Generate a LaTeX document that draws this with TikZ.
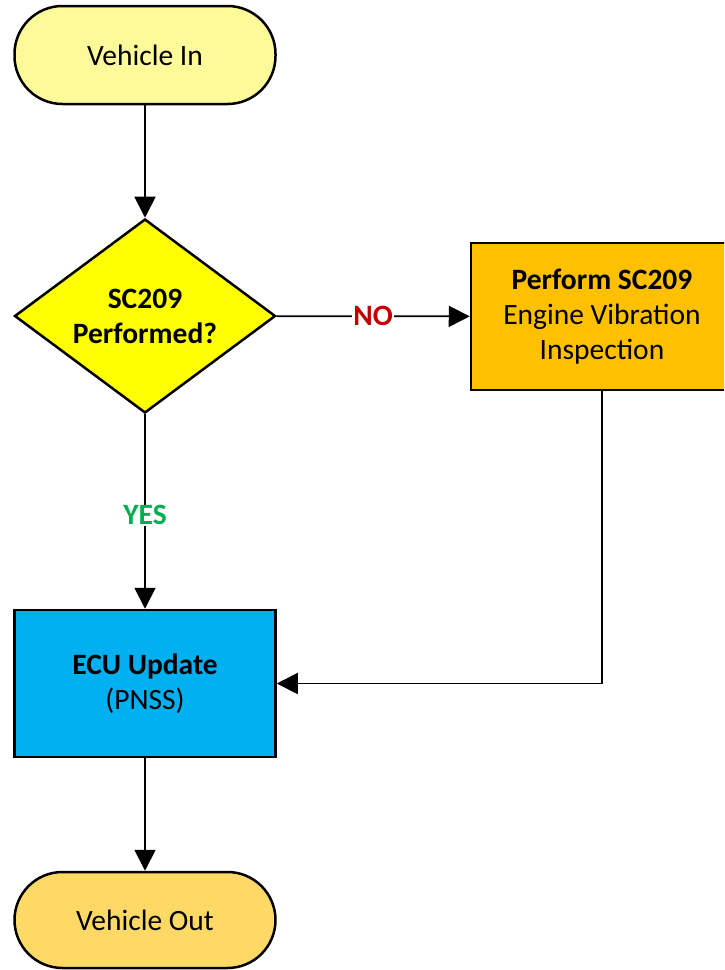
\documentclass[tikz,border=0pt]{standalone}
\usepackage{fontspec}
\setmainfont{Carlito}
\usetikzlibrary{shapes.geometric,arrows.meta}
\definecolor{vinfill}{RGB}{255,250,153}
\definecolor{decfill}{RGB}{255,255,0}
\definecolor{perffill}{RGB}{255,192,0}
\definecolor{ecufill}{RGB}{0,176,240}
\definecolor{voutfill}{RGB}{255,217,102}
\definecolor{nored}{RGB}{192,0,0}
\definecolor{yesgreen}{RGB}{0,176,80}
\begin{document}
\begin{tikzpicture}[x=1pt,y=-1pt,
  txt/.style={font=\fontsize{29.5}{35}\selectfont, align=center, text=black},
  terminal/.style={txt, draw=black, line width=2.5pt, rectangle, rounded corners=48pt, minimum width=261pt, inner sep=0pt},
  decision/.style={txt, draw=black, line width=2.5pt, diamond, aspect=1.345, minimum width=261pt, minimum height=194pt, inner sep=0pt},
  process/.style={txt, draw=black, line width=2.5pt, rectangle, minimum width=261pt, minimum height=147pt, inner sep=0pt},
  conn/.style={draw=black, line width=1.8pt, -{Triangle[length=21pt,width=21pt]}},
  lbl/.style={font=\fontsize{29.5}{35}\selectfont\bfseries, fill=white, inner sep=1pt}]
\useasboundingbox (0,0) rectangle (724,970);
\clip (0,0) rectangle (724,970);
\node[terminal, fill=vinfill, minimum height=98pt] (vin) at (145,55) {Vehicle In};
\node[decision, fill=decfill] (dec) at (145,316) {\bfseries SC209\\\bfseries Performed?};
\node[process, fill=perffill, minimum width=262pt] (perf) at (602,316.5) {\bfseries Perform SC209\\Engine Vibration\\Inspection};
\node[process, fill=ecufill] (ecu) at (145,683.5) {\bfseries ECU Update\\(PNSS)};
\node[terminal, fill=voutfill, minimum height=96pt] (vout) at (145,920) {Vehicle Out};
\draw[conn] (vin) -- (dec);
\draw[conn] (dec) -- node[lbl, text=nored] {NO} (perf);
\draw[conn] (dec) -- node[lbl, text=yesgreen, pos=0.52] {YES} (ecu);
\draw[conn] (perf.south) |- (ecu.east);
\draw[conn] (ecu) -- (vout);
\end{tikzpicture}
\end{document}
